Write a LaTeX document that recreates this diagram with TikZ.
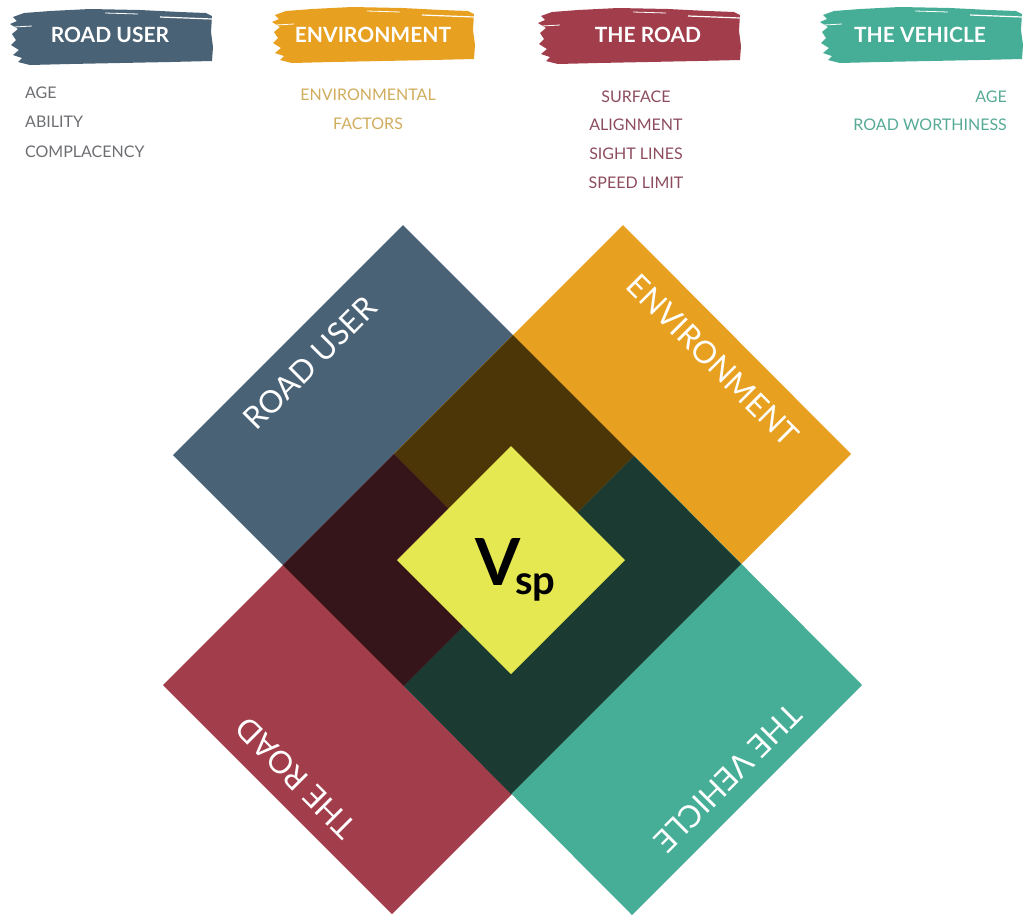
\documentclass[tikz,border=0pt]{standalone}
\usepackage{fontspec}
\setmainfont{Lato}
\definecolor{ruBlue}{RGB}{74,98,118}
\definecolor{envOrange}{RGB}{231,160,32}
\definecolor{rdRed}{RGB}{162,62,75}
\definecolor{vhTeal}{RGB}{70,173,150}
\definecolor{vspYellow}{RGB}{229,232,80}
\definecolor{ovBrown}{RGB}{76,54,8}
\definecolor{ovMaroon}{RGB}{53,21,25}
\definecolor{ovGreen}{RGB}{26,58,50}
\definecolor{ruGrey}{RGB}{108,110,114}
\definecolor{envGold}{RGB}{208,172,92}
\definecolor{rdMauve}{RGB}{140,76,94}
\definecolor{vhGreen}{RGB}{86,170,150}

\begin{document}
\begin{tikzpicture}[x=1pt,y=-1pt,
  hdr/.style={text=white,inner sep=0pt,font=\bfseries\fontsize{21}{24}\selectfont},
  lst/.style={inner sep=0pt,font=\fontsize{16}{18}\selectfont},
  tag/.style={text=white,inner sep=0pt,font=\fontsize{31}{34}\selectfont}]
\path[use as bounding box] (0,0) rectangle (1026,922);
% brush strokes behind the headings
\foreach \bx/\by/\bc in {10/2/ruBlue,272/0/envOrange,538/1/rdRed,820/0/vhTeal}{
  \begin{scope}[shift={(\bx,\by)}]
  \fill[\bc] (3,15)--(14,11)--(40,9)--(80,7)--(130,8)--(170,10)--(196,11)--(202,14)--(201,30)
    --(203,45)--(202,59)--(160,60)--(110,61)--(60,62)--(20,63)--(8,60)--(12,56)--(3,53)
    --(9,48)--(1,43)--(6,38)--(2,32)--(8,27)--(0,22)--(7,19)--cycle;
  \draw[white,line width=1.2] (150,15)--(202,17);
  \draw[white,line width=.8] (95,11)--(128,12);
  \draw[white,line width=.8] (4,25)--(22,24);
  \end{scope}
}
\node[hdr] (hRU) at (110,35) {ROAD USER};
\node[hdr] (hENV) at (373,35) {ENVIRONMENT};
\node[hdr] (hRD) at (648,35) {THE ROAD};
\node[hdr] (hVH) at (920,35) {THE VEHICLE};
% factor lists
\node[lst,text=ruGrey,anchor=west] (ruAge) at (25,93) {AGE};
\node[lst,text=ruGrey,anchor=west] (ruAbility) at (25,122) {ABILITY};
\node[lst,text=ruGrey,anchor=west] (ruCompl) at (25,152) {COMPLACENCY};
\node[lst,text=envGold] (envFac1) at (368,95) {ENVIRONMENTAL};
\node[lst,text=envGold] (envFac2) at (368,124) {FACTORS};
\node[lst,text=rdMauve] (rdSurf) at (636,97) {SURFACE};
\node[lst,text=rdMauve] (rdAlign) at (636,125) {ALIGNMENT};
\node[lst,text=rdMauve] (rdSight) at (636,154) {SIGHT LINES};
\node[lst,text=rdMauve] (rdSpeed) at (636,183) {SPEED LIMIT};
\node[lst,text=vhGreen,anchor=east] (vhAge) at (1007,97) {AGE};
\node[lst,text=vhGreen,anchor=east] (vhWorth) at (1007,125) {ROAD WORTHINESS};
% the four squares
\fill[ruBlue] (403,225)--(634,456)--(404,686)--(173,455)--cycle;
\fill[envOrange] (623,225)--(851,454)--(623,683)--(394,454)--cycle;
\fill[rdRed] (394,454)--(623,683)--(392,914)--(163,685)--cycle;
\fill[vhTeal] (634,456)--(862,685)--(632,915)--(404,686)--cycle;
% overlaps
\fill[ovBrown] (513,335)--(634,456)--(515,575)--(394,454)--cycle;
\fill[ovMaroon] (394,454)--(515,575)--(404,686)--(283,565)--cycle;
\fill[ovGreen] (634,456)--(741,564)--(511,794)--(404,686)--cycle;
\fill[vspYellow] (511,446)--(625,560)--(511,674)--(397,560)--cycle;
\node[anchor=base west,inner sep=0pt,font=\bfseries\fontsize{65}{65}\selectfont] (vsp) at (475,585)
  {V\kern-5pt\raisebox{-9pt}{\fontsize{40}{40}\selectfont sp}};
% square labels
\node[tag,rotate=45] (tRU) at (310,363) {ROAD USER};
\node[tag,rotate=-45] (tENV) at (713,360) {ENVIRONMENT};
\node[tag,rotate=135] (tRD) at (296,778) {THE ROAD};
\node[tag,rotate=-135] (tVH) at (728,778) {THE VEHICLE};
\end{tikzpicture}
\end{document}
